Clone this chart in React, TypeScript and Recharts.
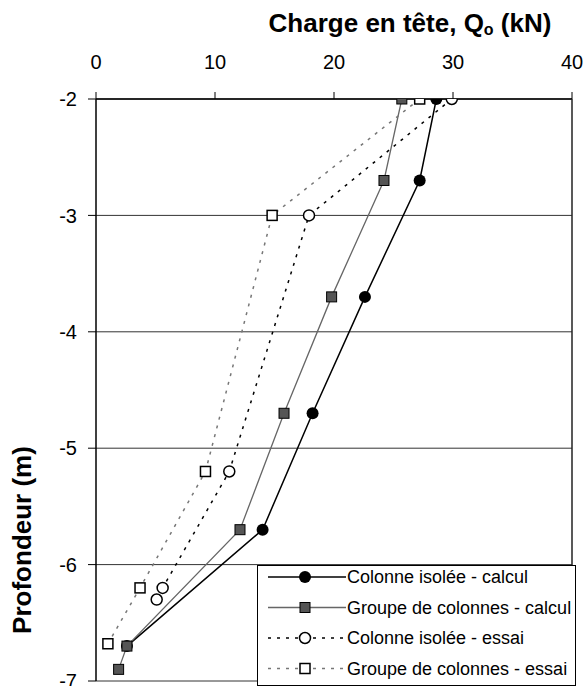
import React from 'react'
import { LineChart, Line, XAxis, YAxis, CartesianGrid } from 'recharts'

// Charge en tête (kN) / profondeur (m)
const isoleeCalculQ = [28.6, 27.2, 22.6, 18.2, 14.0, 2.6]
const isoleeCalculZ = [-2, -2.7, -3.7, -4.7, -5.7, -6.7]
const groupeCalculQ = [25.7, 24.2, 19.8, 15.8, 12.1, 2.6, 1.9]
const groupeCalculZ = [-2, -2.7, -3.7, -4.7, -5.7, -6.7, -6.9]
const isoleeEssaiQ = [29.9, 17.9, 11.2, 5.6, 5.1]
const isoleeEssaiZ = [-2, -3, -5.2, -6.2, -6.3]
const groupeEssaiQ = [27.2, 14.8, 9.2, 3.7, 1.0]
const groupeEssaiZ = [-2, -3, -5.2, -6.2, -6.68]

const xTicks = [0, 10, 20, 30, 40]
const yTicks = [-7, -6, -5, -4, -3, -2]

const seriesNames = [
  'Colonne isolée - calcul',
  'Groupe de colonnes - calcul',
  'Colonne isolée - essai',
  'Groupe de colonnes - essai',
]

const FONT = '"Liberation Sans", Arial, sans-serif'

const zip = (q: number[], z: number[]) => q.map((v, i) => ({ q: v, z: z[i] }))

type MarkerKind = 'disc' | 'filledSquare' | 'ring' | 'openSquare'

function Marker({ kind, cx, cy }: { kind: MarkerKind; cx: number; cy: number }) {
  if (kind === 'disc') return <circle cx={cx} cy={cy} r={6} fill="#000" />
  if (kind === 'ring')
    return <circle cx={cx} cy={cy} r={5.5} fill="#fff" stroke="#000" strokeWidth={1.5} />
  if (kind === 'filledSquare')
    return <rect x={cx - 5} y={cy - 5} width={10} height={10} fill="#555" stroke="#000" strokeWidth={1} />
  return <rect x={cx - 5} y={cy - 5} width={10} height={10} fill="#fff" stroke="#000" strokeWidth={1.5} />
}

const series = [
  { data: zip(isoleeCalculQ, isoleeCalculZ), stroke: '#000', width: 1.5, dash: undefined, marker: 'disc' as MarkerKind },
  { data: zip(groupeCalculQ, groupeCalculZ), stroke: '#666', width: 1.3, dash: undefined, marker: 'filledSquare' as MarkerKind },
  { data: zip(isoleeEssaiQ, isoleeEssaiZ), stroke: '#000', width: 1.5, dash: '3 6', marker: 'ring' as MarkerKind },
  { data: zip(groupeEssaiQ, groupeEssaiZ), stroke: '#777', width: 1.5, dash: '3 6', marker: 'openSquare' as MarkerKind },
]

function LegendBox() {
  return (
    <svg
      width={319}
      height={121}
      style={{ position: 'absolute', left: 257, top: 565, background: '#fff' }}
    >
      <rect x={0.5} y={0.5} width={318} height={120} fill="#fff" stroke="#000" strokeWidth={1} />
      {series.map((s, i) => {
        const y = 12 + i * 30.5
        return (
          <g key={i}>
            <line x1={11} x2={89} y1={y} y2={y} stroke={s.stroke} strokeWidth={s.width} strokeDasharray={s.dash} />
            <Marker kind={s.marker} cx={48} cy={y} />
            <text x={90} y={y + 6} fontSize={18} fontFamily={FONT} fill="#000">
              {seriesNames[i]}
            </text>
          </g>
        )
      })}
    </svg>
  )
}

export default function App() {
  return (
    <div style={{ position: 'absolute', left: 0, top: 0, width: 586, height: 686, background: '#fff' }}>
      <LineChart width={586} height={686} margin={{ top: 69, right: 0, bottom: 5, left: 0 }}>
        <CartesianGrid vertical={false} stroke="#333" strokeWidth={1} />
        <XAxis
          type="number"
          dataKey="q"
          orientation="top"
          domain={[0, 40]}
          ticks={xTicks}
          interval={0}
          height={30}
          tickSize={7}
          tickMargin={23}
          axisLine={{ stroke: '#000', strokeWidth: 1.5 }}
          tickLine={{ stroke: '#000' }}
          tick={{ fill: '#000', fontSize: 20, fontFamily: FONT }}
          allowDataOverflow
        />
        <YAxis
          type="number"
          domain={[-7, -2]}
          ticks={yTicks}
          interval={0}
          width={96}
          tickSize={8}
          tickMargin={11}
          axisLine={{ stroke: '#000', strokeWidth: 1.5 }}
          tickLine={{ stroke: '#000' }}
          tick={{ fill: '#000', fontSize: 20, fontFamily: FONT }}
          allowDataOverflow
        />
        <YAxis
          yAxisId="r"
          orientation="right"
          type="number"
          domain={[-7, -2]}
          width={14}
          tick={false}
          tickLine={false}
          axisLine={{ stroke: '#222', strokeWidth: 1.5 }}
        />
        {series.map((s, i) => (
          <Line
            key={i}
            data={s.data}
            dataKey="z"
            type="linear"
            stroke={s.stroke}
            strokeWidth={s.width}
            strokeDasharray={s.dash}
            isAnimationActive={false}
            dot={(p: any) => <Marker key={`m${i}-${p.index}`} kind={s.marker} cx={p.cx} cy={p.cy} />}
            activeDot={false}
          />
        ))}
      </LineChart>
      <div
        style={{
          position: 'absolute',
          left: 240,
          top: 7,
          width: 340,
          textAlign: 'center',
          fontFamily: FONT,
          fontWeight: 'bold',
          fontSize: 26,
          lineHeight: '32px',
          whiteSpace: 'nowrap',
        }}
      >
        Charge en tête, Q<sub style={{ fontSize: 16, verticalAlign: '-3px' }}>o</sub> (kN)
      </div>
      <div
        style={{
          position: 'absolute',
          left: 22,
          top: 540,
          transform: 'translate(-50%, -50%) rotate(-90deg)',
          fontFamily: FONT,
          fontWeight: 'bold',
          fontSize: 26,
          whiteSpace: 'nowrap',
        }}
      >
        Profondeur (m)
      </div>
      <LegendBox />
    </div>
  )
}
